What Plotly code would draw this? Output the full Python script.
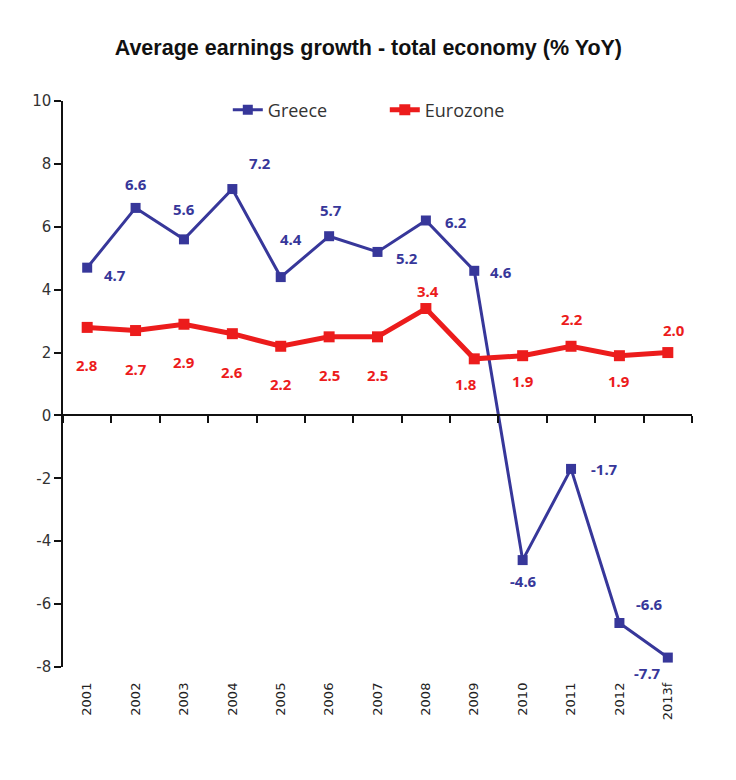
import plotly.graph_objects as go

years = ["2001", "2002", "2003", "2004", "2005", "2006", "2007",
         "2008", "2009", "2010", "2011", "2012", "2013f"]
greece = [4.7, 6.6, 5.6, 7.2, 4.4, 5.7, 5.2, 6.2, 4.6, -4.6, -1.7, -6.6, -7.7]
eurozone = [2.8, 2.7, 2.9, 2.6, 2.2, 2.5, 2.5, 3.4, 1.8, 1.9, 2.2, 1.9, 2.0]
y_ticks = [-8, -6, -4, -2, 0, 2, 4, 6, 8, 10]

GREECE_C = "#37379a"
EURO_C = "#ec1c1c"

# label offsets (pixels) – styling only
greece_off = [(28, -7), (0, 24), (0, 30), (28, 26), (10, 38), (2, 26), (29, -6),
              (30, -2), (27, -1), (1, -21), (33, 0), (30, 19), (-20, -15)]
euro_off = [(0, -38), (0, -38), (0, -38), (0, -38), (0, -38), (0, -38), (0, -38),
            (2, 18), (-8, -25), (0, -25), (1, 27), (0, -25), (6, 23)]

fig = go.Figure()

fig.add_trace(go.Scatter(
    x=years, y=greece, name="Greece", mode="lines+markers",
    line=dict(color=GREECE_C, width=3),
    marker=dict(symbol="square", size=10, color=GREECE_C),
))
fig.add_trace(go.Scatter(
    x=years, y=eurozone, name="Eurozone", mode="lines+markers",
    line=dict(color=EURO_C, width=5),
    marker=dict(symbol="square", size=11, color=EURO_C),
))
# invisible trace to carry the zero-line category axis
fig.add_trace(go.Scatter(
    x=years, y=[None] * len(years), xaxis="x2", showlegend=False,
    hoverinfo="skip", mode="lines",
))

label_font = dict(family="Noto Sans", size=15, weight="bold")
for i, (v, (dx, dy)) in enumerate(zip(greece, greece_off)):
    fig.add_annotation(x=i, y=v, text=f"{v:.1f}", showarrow=False,
                       xshift=dx, yshift=dy,
                       font=dict(color=GREECE_C, **label_font))
for i, (v, (dx, dy)) in enumerate(zip(eurozone, euro_off)):
    fig.add_annotation(x=i, y=v, text=f"{v:.1f}", showarrow=False,
                       xshift=dx, yshift=dy,
                       font=dict(color=EURO_C, **label_font))

fig.update_layout(
    width=728, height=772,
    margin=dict(l=55, r=44, t=93, b=113, autoexpand=False),
    paper_bgcolor="white", plot_bgcolor="white",
    title=dict(text="<b>Average earnings growth - total economy (% YoY)</b>",
               x=0.495, xref="container", xanchor="center",
               y=1 - 39 / 772, yanchor="middle",
               font=dict(family="Liberation Sans", size=21.5, color="#111")),
    legend=dict(orientation="h", x=0.262, y=1 - 9 / 566, xanchor="left", yanchor="middle",
                bgcolor="rgba(0,0,0,0)", entrywidth=112, entrywidthmode="pixels",
                font=dict(family="Open Sans", size=18, color="#333")),
    xaxis=dict(type="category", categoryorder="array", categoryarray=years,
               range=[-0.5, 12.5], showline=False, showgrid=False, zeroline=False,
               ticks="", tickangle=-90, ticklabelstandoff=12, automargin=False,
               tickfont=dict(family="DejaVu Sans", size=13, color="#222")),
    xaxis2=dict(type="category", categoryorder="array", categoryarray=years,
                overlaying="x", anchor="free", position=8 / 18, side="bottom",
                range=[-0.5, 12.5], showline=True, linecolor="#111", linewidth=1.5,
                ticks="outside", tickson="boundaries", ticklen=7, tickcolor="#111",
                tickwidth=1.5, showticklabels=False, showgrid=False, zeroline=False,
                automargin=False),
    yaxis=dict(range=[-8, 10], tickvals=y_ticks, ticktext=[str(v) for v in y_ticks],
               showgrid=False, zeroline=False, automargin=False,
               showline=True, linecolor="#111", linewidth=1.5,
               ticks="outside", ticklen=7, tickcolor="#111", tickwidth=1.5,
               tickfont=dict(family="DejaVu Sans", size=15, color="#333")),
)

fig.write_html("out.html")
